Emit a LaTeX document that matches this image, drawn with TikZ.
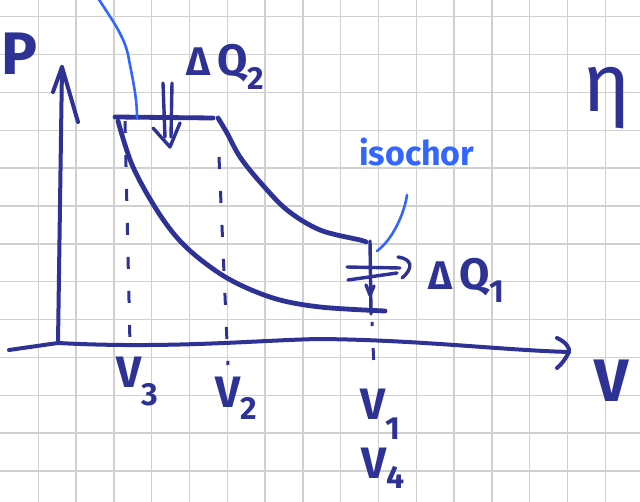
\documentclass[tikz,border=0pt]{standalone}
\usepackage{fontspec}
\setmainfont{Fira Sans}
\definecolor{inkc}{RGB}{46,50,148}
\definecolor{bluec}{RGB}{51,102,255}
\definecolor{gridc}{RGB}{208,208,208}
\newcommand\lowsub[2][18pt]{\raisebox{-#1}{\fontsize{32}{32}\selectfont #2}}
\begin{document}
\begin{tikzpicture}[x=1pt,y=-1pt,
  ink/.style={draw=inkc, line width=4.8pt, line cap=round, line join=round},
  thin ink/.style={draw=inkc, line width=3.4pt, line cap=round, line join=round},
  dashline/.style={draw=inkc, line width=3pt, dash pattern=on 12pt off 22pt},
  leader/.style={draw=bluec, line width=2.6pt, line cap=round},
  lab/.style={text=inkc, inner sep=0pt, font=\fontsize{44}{44}\selectfont\bfseries},
  gridline/.style={draw=gridc, line width=1.5pt}]
\useasboundingbox (0,0) rectangle (640,502);
\fill[white] (0,0) rectangle (640,502);
% grid
\foreach \k in {1,...,16} \draw[gridline] ({0.5+37.8*\k},0) -- ({0.5+37.8*\k},502);
\foreach \k in {0,...,12} \draw[gridline] (0,{16.7+37.86*\k}) -- (640,{16.7+37.86*\k});

% axes
\coordinate (origin) at (58,343);
\coordinate (ptip) at (62,67);
\draw[ink, line width=4pt] (origin) -- (ptip);
\draw[ink, line width=4pt] (53,92) -- (ptip) -- (78,122);
\coordinate (vstart) at (9,350);
\coordinate (vtip) at (569,352);
\draw[ink, line width=4pt] (vstart) -- (origin) .. controls (170,349) and (260,340) .. (320,339)
   .. controls (420,340) and (500,350) .. (vtip);
\draw[ink, line width=4pt] (557,338) .. controls (566,342) and (570,348) .. (vtip) .. controls (566,358) and (562,364) .. (557,368);

% isobar
\coordinate (a) at (115,117);
\coordinate (b) at (213,118);
\draw[ink] (a) -- (b);
% lower curve
\draw[ink] plot[smooth, tension=0.55] coordinates {(118,121) (133,167) (160,215) (187,248) (227,278) (273,298) (320,307) (385,311)};
% upper curve
\draw[ink] plot[smooth, tension=0.55] coordinates {(218,118) (227,133) (240,157) (260,182) (287,210) (320,230) (360,240) (366,242)};
% isochor
\coordinate (c) at (370,241);
\coordinate (d) at (371,314);
\draw[thin ink] (c) -- (d);
\draw[thin ink] (366,285) -- (370,295) -- (374,286);

% dashed lines
\draw[dashline] (125,121) -- (130,345);
\draw[dashline] (219,157) -- (228,365);
\draw[dashline, dash phase=8pt] (372,322) -- (374,368);

% heat arrows
\draw[thin ink] (163,83) -- (165,137);
\draw[thin ink] (172,83) -- (171,137);
\draw[thin ink] (153,128) -- (170,147) -- (180,123);
\draw[thin ink] (347,267) -- (400,268);
\draw[thin ink] (348,280) -- (397,273);
\draw[thin ink] (398,257) .. controls (412,259) and (414,268) .. (402,278);

% leaders
\draw[leader] (98,-2) .. controls (112,20) and (126,38) .. (129,60) .. controls (134,85) and (137,100) .. (137,118);
\draw[leader] (407,195) .. controls (404,215) and (392,240) .. (377,251);

% labels
\node[lab, font=\fontsize{60}{60}\selectfont\bfseries, anchor=base west] (plab) at (1,75) {P};
\node[lab, font=\fontsize{60}{60}\selectfont\bfseries, anchor=base west] (vlab) at (594,402) {V};
\node[lab, font=\fontsize{82}{82}\selectfont, anchor=base west] (eta) at (582,112) {η};
\node[lab, anchor=base west] (v3) at (116,388) {V\lowsub{3}};
\node[lab, anchor=base west] (v2) at (215,408) {V\lowsub[12pt]{2}};
\node[lab, anchor=base west] (v1) at (360,420) {V\lowsub[20pt]{1}};
\node[lab, anchor=base west] (v4) at (361,478) {V\lowsub[10pt]{4}};
\node[lab, anchor=base west] (dq2) at (186,76) {{\fontsize{40}{40}\selectfont Δ}\,Q\lowsub[14pt]{2}};
\node[lab, anchor=base west] (dq1) at (428,290) {{\fontsize{40}{40}\selectfont Δ}\,Q\lowsub[13pt]{1}};
\node[lab, text=bluec, font=\fontsize{34}{34}\selectfont\bfseries, anchor=base west] (iso) at (359,166) {isochor};
\end{tikzpicture}
\end{document}
